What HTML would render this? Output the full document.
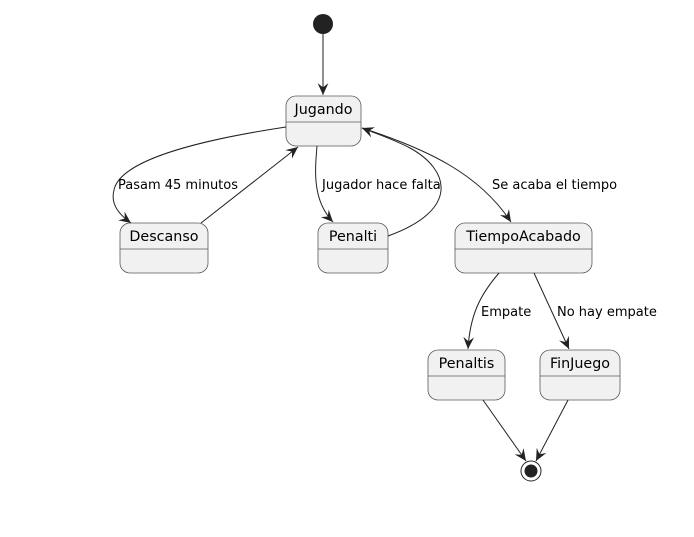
<!DOCTYPE html>
<html><head><style>
html,body{margin:0;padding:0;background:#fff;}
svg{display:block;}
text{font-family:"DejaVu Sans","Liberation Sans",sans-serif;font-size:13px;fill:#000;}
text.n{font-size:14.3px;}
.st{fill:#f1f1f1;stroke:#5a5a5a;stroke-width:0.8;}
.ln{fill:none;stroke:#222;stroke-width:1;}
</style></head><body>
<svg width="694" height="537" viewBox="0 0 694 537" xmlns="http://www.w3.org/2000/svg">
<defs>
<marker id="a" viewBox="0 0 12 12" refX="11" refY="6" markerWidth="13" markerHeight="13" markerUnits="userSpaceOnUse" orient="auto">
<path d="M0,1 L11,6 L0,11 L4,6 Z" fill="#222"/>
</marker>
</defs>
<circle cx="323" cy="24" r="10" fill="#222"/>
<line class="ln" x1="323" y1="34" x2="323" y2="95" marker-end="url(#a)"/>

<rect class="st" x="286" y="96" width="75" height="50" rx="10"/>
<line x1="286" y1="122" x2="361" y2="122" stroke="#5a5a5a" stroke-width="0.8"/>
<text class="n" x="323.5" y="114" text-anchor="middle">Jugando</text>

<rect class="st" x="120" y="223" width="88" height="50" rx="10"/>
<line x1="120" y1="249" x2="208" y2="249" stroke="#5a5a5a" stroke-width="0.8"/>
<text class="n" x="164" y="241" text-anchor="middle">Descanso</text>

<rect class="st" x="318" y="223" width="70" height="50" rx="10"/>
<line x1="318" y1="249" x2="388" y2="249" stroke="#5a5a5a" stroke-width="0.8"/>
<text class="n" x="353" y="241" text-anchor="middle">Penalti</text>

<rect class="st" x="455" y="223" width="137" height="50" rx="10"/>
<line x1="455" y1="249" x2="592" y2="249" stroke="#5a5a5a" stroke-width="0.8"/>
<text class="n" x="523.5" y="241" text-anchor="middle">TiempoAcabado</text>

<rect class="st" x="428" y="350" width="77" height="50" rx="10"/>
<line x1="428" y1="376" x2="505" y2="376" stroke="#5a5a5a" stroke-width="0.8"/>
<text class="n" x="466.5" y="368" text-anchor="middle">Penaltis</text>

<rect class="st" x="540" y="350" width="80" height="50" rx="10"/>
<line x1="540" y1="376" x2="620" y2="376" stroke="#5a5a5a" stroke-width="0.8"/>
<text class="n" x="580" y="368" text-anchor="middle">FinJuego</text>

<path class="ln" d="M286,127 C200,140 120,160 114,190 C110,205 120,215 131,223" marker-end="url(#a)"/>
<text x="118" y="189">Pasam 45 minutos</text>
<line class="ln" x1="201" y1="223" x2="298" y2="147" marker-end="url(#a)"/>

<path class="ln" d="M317,146 C315,170 312,200 333,222" marker-end="url(#a)"/>
<text x="322" y="189">Jugador hace falta</text>
<path class="ln" d="M388,236 C460,210 450,170 410,148 C395,140 375,133 362,128" marker-end="url(#a)"/>

<path class="ln" d="M362,128 C430,150 480,175 511,222" marker-end="url(#a)"/>
<text x="492" y="189">Se acaba el tiempo</text>

<path class="ln" d="M499,273 C480,295 470,315 468,349" marker-end="url(#a)"/>
<text x="481" y="316">Empate</text>
<line class="ln" x1="534" y1="273" x2="569" y2="349" marker-end="url(#a)"/>
<text x="557" y="316">No hay empate</text>

<line class="ln" x1="483" y1="400" x2="526" y2="461" marker-end="url(#a)"/>
<line class="ln" x1="568" y1="400" x2="536" y2="461" marker-end="url(#a)"/>
<circle cx="531" cy="471" r="10" fill="#fff" stroke="#222" stroke-width="1"/>
<circle cx="531" cy="471" r="6.5" fill="#222"/>
</svg>
</body></html>
